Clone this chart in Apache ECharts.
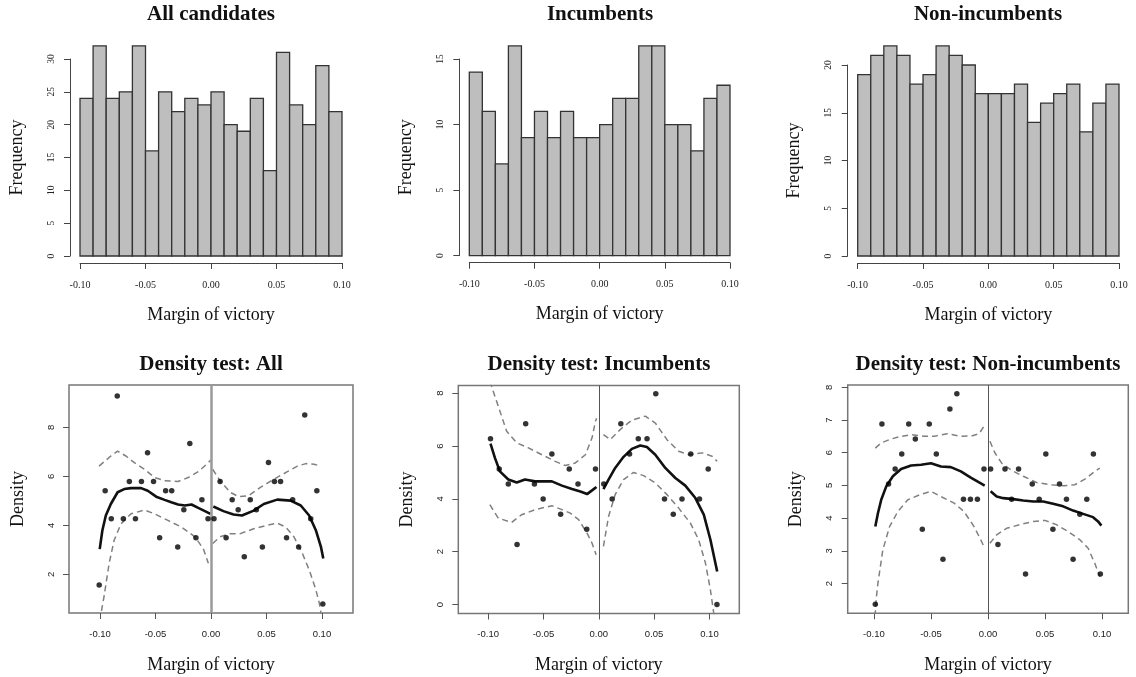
<!DOCTYPE html>
<html><head><meta charset="utf-8">
<script src="https://cdn.jsdelivr.net/npm/echarts@6/dist/echarts.min.js"></script>
<style>html,body{margin:0;padding:0;background:#fff}#c{width:1136px;height:677px}</style>
</head><body><div id="c"></div>
<script>
// ---------- DATA ----------
const binEdges = [-0.10,-0.09,-0.08,-0.07,-0.06,-0.05,-0.04,-0.03,-0.02,-0.01,0.00,0.01,0.02,0.03,0.04,0.05,0.06,0.07,0.08,0.09,0.10];
const histAll = [24,32,24,25,32,16,25,22,24,23,25,20,19,24,13,31,23,20,29,22];
const histInc = [14,11,7,16,9,11,9,11,9,9,10,12,12,16,16,10,10,8,12,13];
const histNon = [19,21,22,21,18,19,22,21,20,17,17,17,18,14,16,17,18,13,16,18];

const xTicks = [-0.10,-0.05,0.00,0.05,0.10];
const yTicksAll = [2,4,6,8];
const yTicksInc = [0,2,4,6,8];
const yTicksNon = [2,3,4,5,6,7,8];

// Density test: All
const allPts = [[-0.1008,1.56],[-0.0954,5.41],[-0.0899,4.27],[-0.0845,9.28],[-0.0790,4.27],[-0.0736,5.79],[-0.0681,4.27],[-0.0627,5.79],[-0.0572,6.96],[-0.0518,5.79],[-0.0463,3.49],[-0.0409,5.41],[-0.0354,5.41],[-0.0300,3.11],[-0.0245,4.64],[-0.0191,7.34],[-0.0136,3.49],[-0.0082,5.04],[-0.0027,4.27],
  [0.0027,4.27],[0.0082,5.79],[0.0136,3.49],[0.0191,5.04],[0.0245,4.64],[0.0300,2.72],[0.0354,5.04],[0.0409,4.64],[0.0463,3.11],[0.0518,6.57],[0.0572,5.79],[0.0627,5.79],[0.0681,3.49],[0.0736,5.04],[0.0790,3.11],[0.0845,8.51],[0.0899,4.27],[0.0954,5.41],[0.1008,0.79]];
const allFitL = [[-0.1003,3.03],[-0.0979,3.80],[-0.0948,4.40],[-0.0903,4.87],[-0.0842,5.35],[-0.0782,5.48],[-0.0721,5.52],[-0.0630,5.52],[-0.0570,5.41],[-0.0494,5.17],[-0.0418,5.04],[-0.0358,4.94],[-0.0297,4.85],[-0.0236,4.81],[-0.0176,4.85],[-0.0115,4.71],[-0.0055,4.58],[-0.0005,4.47]];
const allFitR = [[0.0021,4.77],[0.0112,4.58],[0.0203,4.44],[0.0279,4.40],[0.0385,4.60],[0.0476,4.87],[0.0597,5.05],[0.0718,5.01],[0.0809,4.81],[0.0885,4.40],[0.0945,3.80],[0.0991,3.12],[0.1012,2.65]];
const allUpL = [[-0.1009,6.42],[-0.0903,6.83],[-0.0842,7.03],[-0.0767,6.83],[-0.0691,6.56],[-0.0600,6.29],[-0.0509,5.95],[-0.0418,5.82],[-0.0297,5.79],[-0.0206,5.95],[-0.0115,6.19],[-0.0024,6.56],[-0.0003,6.67]];
const allUpR = [[0.0015,6.29],[0.0082,5.82],[0.0173,5.35],[0.0248,5.17],[0.0339,5.21],[0.0445,5.55],[0.0567,5.88],[0.0688,6.19],[0.0779,6.42],[0.0855,6.52],[0.0930,6.49],[0.0991,6.42]];
const allLoL = [[-0.1003,0.10],[-0.0964,1.10],[-0.0918,2.45],[-0.0873,3.39],[-0.0812,4.06],[-0.0721,4.47],[-0.0600,4.63],[-0.0509,4.47],[-0.0388,4.20],[-0.0267,3.93],[-0.0145,3.53],[-0.0070,3.05],[-0.0024,2.45]];
const allLoR = [[0.0015,3.26],[0.0082,3.53],[0.0173,3.66],[0.0264,3.66],[0.0385,3.86],[0.0506,4.00],[0.0597,4.09],[0.0673,3.93],[0.0748,3.53],[0.0824,2.85],[0.0885,2.18],[0.0945,1.37],[0.0976,0.83],[0.0991,0.43],[0.1000,0.20]];

// Density test: Incumbents
const incPts = [[-0.0979,6.27],[-0.0900,5.13],[-0.0818,4.56],[-0.0739,2.27],[-0.0661,6.84],[-0.0582,4.56],[-0.0503,3.99],[-0.0424,5.70],[-0.0345,3.42],[-0.0267,5.13],[-0.0188,4.56],[-0.0109,2.85],[-0.0030,5.13],
  [0.0045,4.56],[0.0121,3.99],[0.0199,6.84],[0.0278,5.70],[0.0357,6.27],[0.0436,6.27],[0.0515,7.98],[0.0594,3.99],[0.0673,3.42],[0.0752,3.99],[0.0831,5.70],[0.0910,3.99],[0.0989,5.13],[0.1068,0.00]];
const incFitL = [[-0.0979,6.09],[-0.0939,5.55],[-0.0894,5.04],[-0.0818,4.73],[-0.0742,4.62],[-0.0667,4.73],[-0.0576,4.66],[-0.0424,4.66],[-0.0333,4.50],[-0.0242,4.37],[-0.0167,4.28],[-0.0106,4.18],[-0.0061,4.32],[-0.0021,4.45]];
const incFitR = [[0.0042,4.37],[0.0088,4.73],[0.0148,5.17],[0.0224,5.59],[0.0299,5.89],[0.0375,6.02],[0.0435,5.96],[0.0511,5.67],[0.0601,5.17],[0.0692,4.79],[0.0782,4.50],[0.0873,4.03],[0.0949,3.40],[0.1009,2.45],[0.1070,1.25]];
const incUpL = [[-0.0985,8.45],[-0.0909,7.51],[-0.0833,6.56],[-0.0742,6.12],[-0.0636,5.93],[-0.0515,5.67],[-0.0394,5.42],[-0.0303,5.26],[-0.0212,5.36],[-0.0121,5.67],[-0.0061,6.31],[-0.0030,6.94],[-0.0020,7.05]];
const incUpR = [[0.0042,6.43],[0.0103,6.24],[0.0193,6.62],[0.0299,6.98],[0.0420,7.13],[0.0511,6.87],[0.0616,6.24],[0.0722,5.80],[0.0813,5.67],[0.0934,5.74],[0.1024,5.61],[0.1070,5.42]];
const incLoL = [[-0.0985,3.78],[-0.0909,3.27],[-0.0788,3.11],[-0.0697,3.40],[-0.0576,3.59],[-0.0424,3.74],[-0.0333,3.59],[-0.0258,3.46],[-0.0182,3.21],[-0.0106,2.70],[-0.0061,2.32],[-0.0024,1.88]];
const incLoR = [[0.0042,2.20],[0.0088,3.33],[0.0148,4.16],[0.0224,4.73],[0.0314,5.00],[0.0405,4.88],[0.0511,4.60],[0.0616,4.16],[0.0722,3.65],[0.0828,3.08],[0.0903,2.45],[0.0964,1.57],[0.1009,0.55],[0.1039,-0.33],[0.1050,-0.60]];

// Density test: Non-incumbents
const nonPts = [[-0.0988,1.37],[-0.0930,6.88],[-0.0872,5.04],[-0.0814,5.50],[-0.0756,5.96],[-0.0695,6.88],[-0.0637,6.42],[-0.0576,3.66],[-0.0515,6.88],[-0.0453,5.96],[-0.0395,2.74],[-0.0334,7.34],[-0.0273,7.80],[-0.0215,4.58],[-0.0154,4.58],[-0.0093,4.58],[-0.0035,5.50],
  [0.0023,5.50],[0.0087,3.19],[0.0149,5.50],[0.0207,4.58],[0.0268,5.50],[0.0329,2.29],[0.0388,5.04],[0.0449,4.58],[0.0507,5.96],[0.0569,3.66],[0.0627,5.04],[0.0688,4.58],[0.0746,2.74],[0.0805,4.12],[0.0866,4.58],[0.0924,5.96],[0.0985,2.29]];
const nonFitL = [[-0.0988,3.74],[-0.0965,4.15],[-0.0936,4.56],[-0.0892,4.97],[-0.0834,5.28],[-0.0762,5.50],[-0.0674,5.61],[-0.0587,5.63],[-0.0500,5.68],[-0.0413,5.58],[-0.0326,5.56],[-0.0238,5.43],[-0.0151,5.24],[-0.0078,5.09],[-0.0029,4.99]];
const nonFitR = [[0.0023,4.82],[0.0076,4.66],[0.0134,4.61],[0.0222,4.58],[0.0309,4.54],[0.0397,4.51],[0.0484,4.51],[0.0571,4.44],[0.0659,4.36],[0.0746,4.23],[0.0834,4.13],[0.0921,4.03],[0.0965,3.90],[0.0994,3.77]];
const nonUpL = [[-0.0988,6.14],[-0.0936,6.30],[-0.0849,6.42],[-0.0762,6.50],[-0.0674,6.55],[-0.0558,6.50],[-0.0471,6.50],[-0.0355,6.58],[-0.0238,6.50],[-0.0137,6.52],[-0.0078,6.58],[-0.0035,6.81]];
const nonUpR = [[0.0017,6.35],[0.0061,5.99],[0.0120,5.68],[0.0207,5.46],[0.0309,5.28],[0.0426,5.09],[0.0542,5.02],[0.0659,4.99],[0.0761,5.02],[0.0863,5.22],[0.0936,5.43],[0.0980,5.53]];
const nonLoL = [[-0.0990,1.00],[-0.0978,1.60],[-0.0965,2.01],[-0.0922,3.03],[-0.0863,3.74],[-0.0791,4.20],[-0.0703,4.56],[-0.0602,4.71],[-0.0500,4.82],[-0.0413,4.66],[-0.0297,4.46],[-0.0210,4.20],[-0.0122,3.74],[-0.0064,3.34],[-0.0035,3.13]];
const nonLoR = [[0.0017,3.23],[0.0076,3.49],[0.0163,3.69],[0.0280,3.80],[0.0397,3.90],[0.0499,3.93],[0.0600,3.80],[0.0703,3.59],[0.0805,3.34],[0.0878,3.08],[0.0936,2.62],[0.0980,2.21]];

// ---------- CHART ----------
const SERIF = '"Liberation Serif", "DejaVu Serif", serif';
const SANS = '"Liberation Sans", Arial, sans-serif';
const fmt2 = v => (Math.abs(v) < 1e-9 ? 0 : v).toFixed(2);

const grids = [
  {left:80, top:59, width:262, height:197},
  {left:469.3, top:59, width:260.7, height:196.7},
  {left:857.7, top:65, width:261.3, height:191},
  {left:69, top:385, width:284, height:228, show:true, borderColor:'#777', borderWidth:1.5},
  {left:458.3, top:385.5, width:281, height:228, show:true, borderColor:'#777', borderWidth:1.5},
  {left:847.7, top:385, width:280.6, height:228.3, show:true, borderColor:'#777', borderWidth:1.5}
].map(g => Object.assign({outerBoundsMode:'none', containLabel:false}, g));

function histX(i) {
  return {gridIndex:i, type:'value', min:-0.1, max:0.1, interval:0.05, offset:7,
    axisLine:{show:true, onZero:false, lineStyle:{color:'#444', width:1}},
    axisTick:{show:true, length:6, lineStyle:{color:'#444'}},
    axisLabel:{fontFamily:SERIF, fontSize:10, color:'#222', margin:17, formatter:fmt2},
    splitLine:{show:false},
    name:'Margin of victory', nameLocation:'middle', nameGap:43,
    nameTextStyle:{fontFamily:SERIF, fontSize:18, color:'#111'}};
}
function histY(i, max) {
  return {gridIndex:i, type:'value', min:0, max:max, interval:5, offset:10,
    axisLine:{show:true, onZero:false, lineStyle:{color:'#444', width:1}},
    axisTick:{show:true, length:6, lineStyle:{color:'#444'}},
    axisLabel:{fontFamily:SERIF, fontSize:9.5, color:'#222', margin:14, rotate:90},
    splitLine:{show:false},
    name:'Frequency', nameLocation:'middle', nameGap:44,
    nameTextStyle:{fontFamily:SERIF, fontSize:18, color:'#111'}};
}
function densX(i, lim) {
  return {gridIndex:i, type:'value', min:-lim, max:lim,
    axisLine:{show:false, onZero:false},
    axisTick:{show:true, length:6, customValues:xTicks, lineStyle:{color:'#555'}},
    axisLabel:{fontFamily:SANS, fontSize:9.5, color:'#222', margin:16, customValues:xTicks, formatter:fmt2},
    splitLine:{show:false},
    name:'Margin of victory', nameLocation:'middle', nameGap:43,
    nameTextStyle:{fontFamily:SERIF, fontSize:18, color:'#111'}};
}
function densY(i, mn, mx, ticks) {
  return {gridIndex:i, type:'value', min:mn, max:mx,
    axisLine:{show:false, onZero:false},
    axisTick:{show:true, length:6, customValues:ticks, lineStyle:{color:'#555'}},
    axisLabel:{fontFamily:SANS, fontSize:9.5, color:'#222', margin:13, rotate:90, customValues:ticks, formatter:v => String(v)},
    splitLine:{show:false},
    name:'Density', nameLocation:'middle', nameGap:42,
    nameTextStyle:{fontFamily:SERIF, fontSize:18, color:'#111'}};
}

function histSeries(counts, i) {
  return {type:'custom', xAxisIndex:i, yAxisIndex:i, clip:false, silent:true,
    data: counts.map((c, k) => [binEdges[k], binEdges[k+1], c]),
    encode:{x:[0,1], y:2},
    renderItem(params, api) {
      const p0 = api.coord([api.value(0), api.value(2)]);
      const p1 = api.coord([api.value(1), 0]);
      return {type:'rect', shape:{x:p0[0], y:p0[1], width:p1[0]-p0[0], height:p1[1]-p0[1]},
        style:{fill:'#bebebe', stroke:'#333', lineWidth:1.3}};
    }};
}

function lineS(i, data, dashed) {
  return {type:'line', xAxisIndex:i, yAxisIndex:i, data:data, showSymbol:false, symbol:'none', silent:true,
    clip:true, smooth:false,
    lineStyle: dashed ? {color:'#808080', width:1.5, type:[6,4]} : {color:'#111', width:2.6},
    z: dashed ? 3 : 4};
}
function densSeries(i, pts, fitL, fitR, upL, upR, loL, loR, zeroStyle) {
  return [
    {type:'scatter', xAxisIndex:i, yAxisIndex:i, data:pts, symbol:'circle', symbolSize:5.5,
      itemStyle:{color:'#000'}, silent:true, z:5,
      markLine:{silent:true, symbol:['none','none'], label:{show:false}, animation:false,
        lineStyle:zeroStyle, data:[{xAxis:0}]}},
    lineS(i, fitL, false), lineS(i, fitR, false),
    lineS(i, upL, true), lineS(i, upR, true),
    lineS(i, loL, true), lineS(i, loR, true)
  ];
}

const titles = [
  ['All candidates', 211, 15], ['Incumbents', 600, 15], ['Non-incumbents', 988, 15],
  ['Density test: All', 211, 365], ['Density test: Incumbents', 599, 365], ['Density test: Non-incumbents', 988, 365]
];

const option = {
  animation:false,
  backgroundColor:'#fff',
  grid: grids,
  xAxis: [histX(0), histX(1), histX(2), densX(3, 0.128), densX(4, 0.127), densX(5, 0.123)],
  yAxis: [histY(0, 30), histY(1, 15), histY(2, 20), densY(3, 0.42, 9.73, yTicksAll), densY(4, -0.34, 8.29, yTicksInc), densY(5, 1.09, 8.07, yTicksNon)],
  graphic: titles.map(t => ({type:'text', x:t[1], y:t[2], silent:true,
    style:{text:t[0], fontFamily:SERIF, fontWeight:'bold', fontSize:21, fill:'#111', align:'center', verticalAlign:'middle'}})),
  series: [
    histSeries(histAll, 0), histSeries(histInc, 1), histSeries(histNon, 2),
    ...densSeries(3, allPts, allFitL, allFitR, allUpL, allUpR, allLoL, allLoR, {color:'#9a9a9a', width:2.5, type:'solid'}),
    ...densSeries(4, incPts, incFitL, incFitR, incUpL, incUpR, incLoL, incLoR, {color:'#555', width:1, type:'solid'}),
    ...densSeries(5, nonPts, nonFitL, nonFitR, nonUpL, nonUpR, nonLoL, nonLoR, {color:'#555', width:1, type:'solid'})
  ]
};
const chart = echarts.init(document.getElementById('c'), null, {renderer:'canvas'});
chart.setOption(option);
</script>
</body></html>
